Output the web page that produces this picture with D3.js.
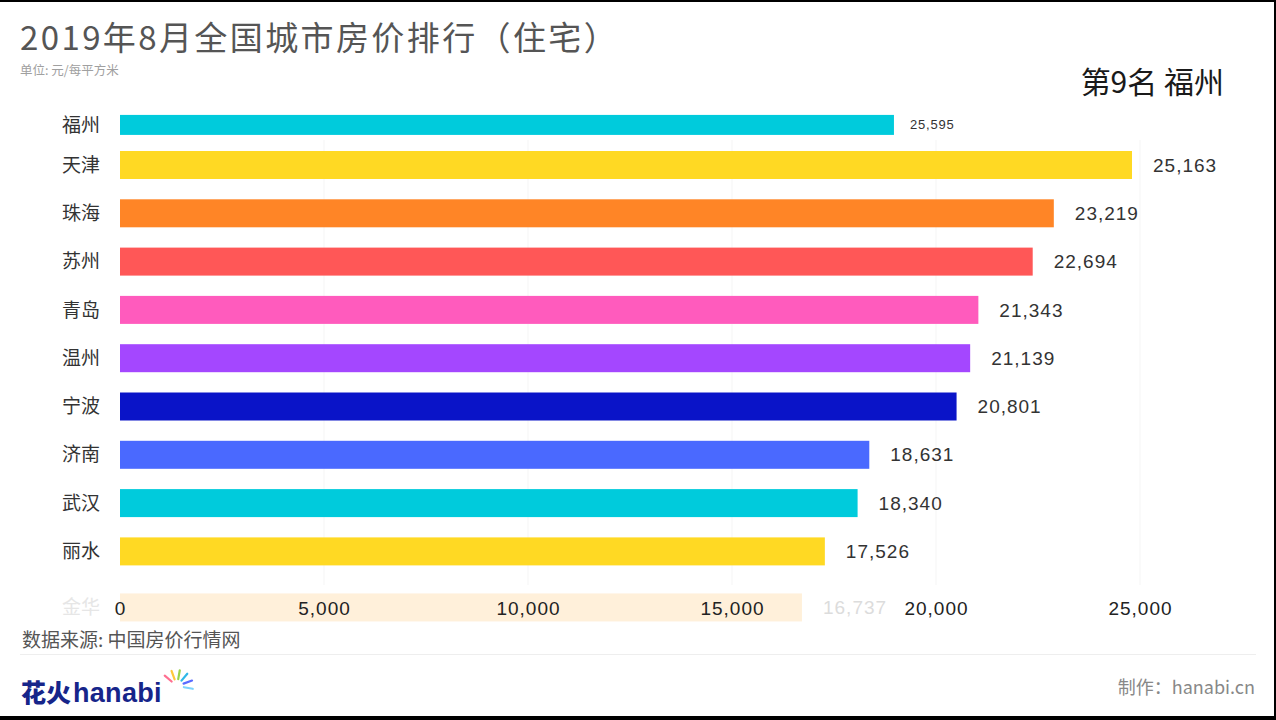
<!DOCTYPE html>
<html><head><meta charset="utf-8">
<script src="https://cdn.jsdelivr.net/npm/d3@7/dist/d3.min.js"></script>
<style>
html,body{margin:0;padding:0;background:#fff;}
svg{display:block;}
text{font-family:"Liberation Sans","Noto Sans CJK SC",sans-serif;}
.cjk{font-family:"Noto Sans CJK SC","Liberation Sans",sans-serif;}
</style></head>
<body>
<script>
// ---- data ----
const cities = ["福州","天津","珠海","苏州","青岛","温州","宁波","济南","武汉","丽水","金华"];
const values = [25595, 25163, 23219, 22694, 21343, 21139, 20801, 18631, 18340, 17526, 16737];
// bar lengths as currently drawn in this animation frame (福州 still growing, 金华 leaving)
const shownValues = [19244, 25163, 23219, 22694, 21343, 21139, 20801, 18631, 18340, 17526, 16957];
const ranks = [-0.83, 0, 1, 2, 3, 4, 5, 6, 7, 8, 9.16];
const colors = ["#00cbdc","#ffd923","#ff8526","#ff5757","#ff5bbd","#a447ff","#0a14c8","#4a69ff","#00cbdc","#ffd923","#ffb347"];
const tickValues = [0, 5000, 10000, 15000, 20000, 25000];
const title = "2019年8月全国城市房价排行（住宅）";
const subtitle = "单位: 元/每平方米";
const rankLabel = "第9名 福州";
const source = "数据来源: 中国房价行情网";
const credit = "制作：hanabi.cn";

const W = 1276, H = 720;
const svg = d3.select("body").append("svg").attr("width", W).attr("height", H);

// frame borders
svg.append("rect").attr("x",0).attr("y",0).attr("width",W).attr("height",2).attr("fill","#000");
svg.append("rect").attr("x",0).attr("y",716).attr("width",W).attr("height",4).attr("fill","#000");
svg.append("rect").attr("x",W-2).attr("y",0).attr("width",2).attr("height",H).attr("fill","#000");

// scales
const xBar = d3.scaleLinear().domain([0, 25163]).range([120, 1132]);
const xAxis = d3.scaleLinear().domain([0, 25000]).range([120, 1140]);
const y = d3.scaleLinear().domain([0, 9]).range([165, 599.7]);
const fmt = d3.format(",");

// gridlines
svg.append("g").selectAll("line").data(tickValues.slice(1)).join("line")
  .attr("x1", d => xAxis(d)).attr("x2", d => xAxis(d))
  .attr("y1", 140).attr("y2", 585)
  .attr("stroke", "#f5f5f5").attr("stroke-width", 1);

// title
svg.append("text").attr("class","cjk").attr("x", 20).attr("y", 50)
  .attr("font-size", 33).attr("letter-spacing", 2.4).attr("fill", "#555").text(title);
svg.append("text").attr("class","cjk").attr("x", 20).attr("y", 75)
  .attr("font-size", 12.5).attr("fill", "#a0a0a0").text(subtitle);
svg.append("text").attr("class","cjk").attr("x", 1224).attr("y", 93)
  .attr("text-anchor","end").attr("font-size", 30).attr("fill", "#1a1a1a").text(rankLabel);

const rows = cities.map((c, i) => ({city: c, value: values[i], shown: shownValues[i], rank: ranks[i], color: colors[i], i}));

const barG = svg.append("g");
rows.forEach(d => {
  const fading = d.i === rows.length - 1;
  const entering = d.i === 0;
  const h = entering ? 20 : 28;
  const cy = y(d.rank);
  barG.append("rect")
    .attr("x", xBar(0)).attr("y", cy - h/2)
    .attr("width", xBar(d.shown) - xBar(0)).attr("height", h)
    .attr("fill", d.color).attr("opacity", fading ? 0.2 : 1);
  barG.append("text").attr("class","cjk")
    .attr("x", 100).attr("y", cy).attr("dy", "0.35em")
    .attr("text-anchor", "end").attr("font-size", 19)
    .attr("fill", fading ? "#e6e6e6" : "#333").text(d.city);
  barG.append("text")
    .attr("x", xBar(d.shown) + (entering ? 16 : 21)).attr("y", cy).attr("dy", "0.35em")
    .attr("font-size", entering ? 13 : 19)
    .attr("letter-spacing", entering ? 0.8 : 1)
    .attr("fill", fading ? "#dcdcdc" : "#333").text(fmt(d.value));
});

// axis labels
const axisG = svg.append("g").attr("transform", "translate(0,608)")
  .call(d3.axisBottom(xAxis).tickValues(tickValues).tickSize(0).tickFormat(fmt));
axisG.select(".domain").remove();
axisG.selectAll("text").attr("font-size", 19).attr("fill", "#222").attr("letter-spacing", 1)
  .attr("font-family", "Liberation Sans, sans-serif").attr("dy", "0.35em").attr("y", 0);

// footer
svg.append("text").attr("class","cjk").attr("x", 22).attr("y", 647)
  .attr("font-size", 19).attr("fill", "#555").text(source);
svg.append("line").attr("x1", 20).attr("x2", 1256).attr("y1", 654.5).attr("y2", 654.5)
  .attr("stroke", "#eee");
svg.append("text").attr("class","cjk").attr("x", 1255).attr("y", 694)
  .attr("text-anchor","end").attr("font-size", 18).attr("fill", "#888").text(credit);

// logo
const logo = svg.append("g").attr("transform", "translate(21,702)");
logo.append("text").attr("class","cjk").attr("x", 0).attr("y", 0)
  .attr("font-size", 25).attr("font-weight", 900).attr("fill", "#16258a").text("花火");
logo.append("text").attr("x", 52).attr("y", 0)
  .attr("font-size", 27).attr("font-weight", 700).attr("fill", "#16258a")
  .attr("font-family", "Lato, sans-serif").attr("letter-spacing", 0.3).text("hanabi");
const sparks = [
  {a: -140, c: "#ff6f91"}, {a: -110, c: "#ffc93c"}, {a: -80, c: "#9ad34a"},
  {a: -50, c: "#2fb8e8"}, {a: -20, c: "#5a6bff"}, {a: 10, c: "#7dd3fc"}
];
sparks.forEach(s => {
  const r = s.a * Math.PI / 180;
  logo.append("line")
    .attr("x1", 156 + Math.cos(r) * 7).attr("y1", -16 + Math.sin(r) * 7)
    .attr("x2", 156 + Math.cos(r) * 16).attr("y2", -16 + Math.sin(r) * 16)
    .attr("stroke", s.c).attr("stroke-width", 2.2).attr("stroke-linecap", "round");
});
</script>
</body></html>
